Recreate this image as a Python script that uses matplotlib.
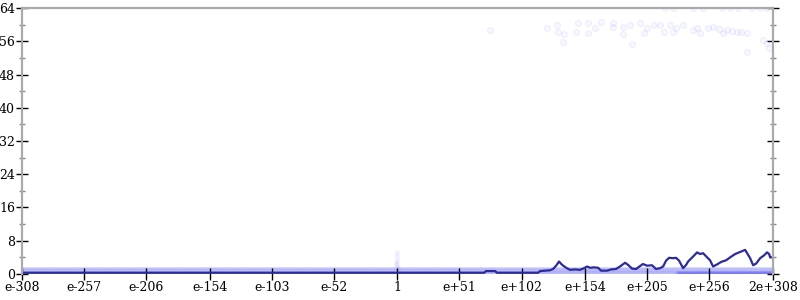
import numpy as np
import matplotlib
matplotlib.use("Agg")
import matplotlib.pyplot as plt
from matplotlib.ticker import FixedLocator

# x axis is the decimal exponent of the value (1e-308 ... 2e+308)
tick_pos = [-308, -257, -206, -154, -103, -52, 0, 51, 102, 154, 205, 256, 308.3]
tick_labels = ["e-308", "e-257", "e-206", "e-154", "e-103", "e-52", "1",
               "e+51", "e+102", "e+154", "e+205", "e+256", "2e+308"]

# running mean line
line_exp = [-308, 0, 59.7, 71.2, 72.8, 80.2, 81.8, 115.5, 117.1, 125.3, 127.8, 130.3,
            132.7, 135.2, 138.5, 141.7, 145.8, 150.0, 153.2, 155.7, 158.2, 161.4, 164.7,
            167.2, 172.1, 175.4, 179.4, 182.7, 186.9, 189.3, 192.6, 195.9, 199.1, 201.6,
            204.9, 209.0, 212.3, 215.6, 218.1, 220.5, 223.0, 226.3, 228.7, 231.2, 234.5,
            237.0, 238.6, 242.7, 246.0, 248.4, 250.9, 254.2, 256.6, 259.1, 262.4, 265.7,
            269.8, 273.1, 277.2, 281.3, 285.4, 289.5, 292.0, 294.4, 297.7, 301.0, 303.4,
            305.1, 305.9, 308.3]
line_val = [0.3, 0.3, 0.3, 0.3, 0.7, 0.7, 0.3, 0.3, 0.7, 0.9, 1.2, 2.0,
            3.0, 2.2, 1.5, 1.0, 1.1, 1.0, 1.4, 1.8, 1.5, 1.6, 1.5,
            0.8, 0.8, 1.1, 1.2, 1.8, 2.7, 2.2, 1.3, 1.2, 1.9, 2.4,
            2.0, 2.1, 1.2, 1.4, 1.8, 3.2, 3.9, 3.8, 3.9, 3.2, 1.4,
            2.2, 3.0, 4.2, 5.2, 4.8, 5.0, 4.0, 3.3, 1.8, 2.3, 2.9,
            3.3, 4.0, 4.8, 5.3, 5.8, 3.8, 2.1, 2.5, 3.8, 4.5, 5.2,
            4.8, 4.0, 4.0]

# individual samples: bulk sits at 0 and 1 across the whole range
band_exp = np.arange(-308, 309, 1.5)
band_levels = [0, 1]
# denser stretch of zeros at the high end
dense_exp = np.arange(230, 309, 1.0)

# a few samples around 1
mid_exp = [0, 0, 0, 0, 0.5, -0.5]
mid_val = [2, 3, 4, 5, 1.5, 2.5]

# outliers near the top
top_exp = [76.1, 122.9, 131.1, 131.9, 136.8, 136.0, 146.7, 148.3, 156.5, 156.5, 162.3,
           167.2, 177.0, 177.0, 185.2, 185.2, 191.0, 192.6, 199.1, 202.5, 204.9, 210.7,
           215.6, 218.9, 223.8, 226.3, 228.7, 234.5, 242.7, 246.0, 248.4, 255.0, 259.1,
           264.0, 267.3, 270.6, 274.7, 278.8, 282.1, 287.0, 287.0, 300.1, 303.4, 305.1,
           219.7, 226.3, 242.7, 250.9, 266.5, 273.1, 279.6, 291.1, 297.7, 303.4]
top_val = [58.7, 59.2, 59.9, 58.2, 57.7, 55.8, 58.2, 60.4, 58.0, 60.4, 59.2,
           60.6, 60.4, 59.4, 59.4, 57.7, 59.9, 55.3, 60.4, 58.0, 59.2, 59.9,
           59.9, 58.2, 59.9, 58.2, 59.2, 59.9, 58.7, 59.2, 58.0, 59.2, 59.4,
           59.0, 58.0, 58.7, 58.5, 58.2, 58.2, 58.0, 53.4, 56.3, 55.6, 54.4,
           64, 64, 64, 64, 64, 64, 64, 64, 64, 64]

fig = plt.figure(figsize=(8, 3), dpi=100)
ax = fig.add_axes([0.0275, 0.0867, 0.9388, 0.8866])

pt_color = (0.2, 0.2, 0.95, 0.13)
for lv in band_levels:
    ax.scatter(band_exp, [lv] * len(band_exp), s=16, color=pt_color, edgecolors="none")
ax.scatter(dense_exp, [0] * len(dense_exp), s=16, color=pt_color, edgecolors="none")
ax.scatter(mid_exp, mid_val, s=14, color=(0.2, 0.2, 1.0, 0.07), edgecolors="none")
ax.scatter(top_exp, top_val, s=18, facecolor=(0.4, 0.4, 1.0, 0.05),
           edgecolors=(0.3, 0.3, 1.0, 0.1), linewidths=0.6)

ax.plot(line_exp, line_val, color="#2b2b99", lw=1.6, solid_joinstyle="round")

ax.set_xlim(-308, 308.3)
ax.set_ylim(0, 64)

ax.xaxis.set_major_locator(FixedLocator(tick_pos))
ax.set_xticklabels(tick_labels)
ax.yaxis.set_major_locator(FixedLocator(np.arange(0, 65, 8)))
ax.yaxis.set_minor_locator(FixedLocator(np.arange(4, 64, 8)))

for s in ax.spines.values():
    s.set_color("#aaaaaa")
    s.set_linewidth(1.6)
ax.spines["bottom"].set_visible(False)

ax.tick_params(axis="y", which="major", direction="inout", length=8, width=1,
               color="black", left=True, right=True, labelsize=9, pad=1)
ax.tick_params(axis="y", which="minor", direction="inout", length=5, width=1,
               color="#888888", left=True, right=True)
ax.tick_params(axis="x", which="major", direction="inout", length=8, width=1,
               color="black", labelsize=9, pad=1)
for lab in ax.get_xticklabels() + ax.get_yticklabels():
    lab.set_family("DejaVu Serif")

fig.savefig("out.png", dpi=100)
